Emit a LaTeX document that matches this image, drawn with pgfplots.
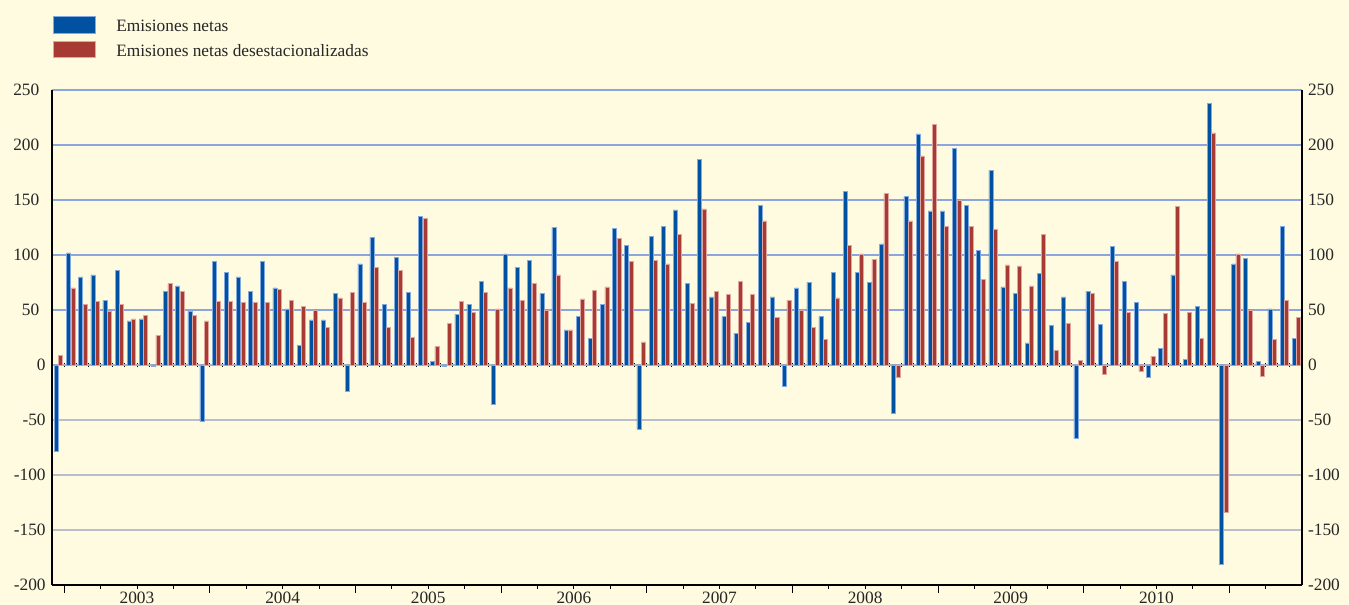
\documentclass[border=0pt]{standalone}
\usepackage{fontspec}
\setmainfont{Liberation Serif}
\usepackage{pgfplots}
\pgfplotsset{compat=1.18}
\usepackage{pgfplotstable}
\definecolor{bg}{RGB}{255,251,224}
\definecolor{cblue}{RGB}{0,82,160}
\definecolor{cred}{RGB}{168,58,52}
\definecolor{cblueedge}{RGB}{130,170,225}
\definecolor{crededge}{RGB}{225,165,160}
\definecolor{gridblue}{RGB}{140,165,220}
\definecolor{gridgray}{RGB}{185,190,200}
\definecolor{zerogray}{RGB}{170,180,200}

\pgfplotstableread{
m b r
0 -78 9
1 102 70
2 80 55
3 82 58
4 59 49
5 86 55
6 40 42
7 42 45
8 -1 27
9 67 74
10 72 67
11 49 45
12 -51 40
13 94 58
14 84 58
15 80 57
16 67 57
17 94 57
18 70 69
19 51 59
20 18 53
21 41 50
22 41 34
23 65 61
24 -24 66
25 92 57
26 116 89
27 55 34
28 98 86
29 66 25
30 135 133
31 3 17
32 -1 38
33 46 58
34 55 48
35 76 66
36 -36 51
37 101 70
38 89 59
39 95 74
40 65 50
41 125 82
42 32 32
43 44 60
44 24 68
45 55 71
46 124 115
47 109 94
48 -58 21
49 117 95
50 126 92
51 141 119
52 74 56
53 187 142
54 62 67
55 44 64
56 29 76
57 39 64
58 145 131
59 62 43
60 -19 59
61 70 50
62 75 34
63 44 23
64 84 61
65 158 109
66 84 101
67 75 96
68 110 156
69 -44 -11
70 153 131
71 210 190
72 140 219
73 140 126
74 197 150
75 145 126
76 104 78
77 177 123
78 71 91
79 65 90
80 20 72
81 83 119
82 36 13
83 62 38
84 -67 4
85 67 65
86 37 -8
87 108 94
88 76 48
89 57 -6
90 -11 8
91 15 47
92 82 144
93 5 48
94 53 24
95 238 211
96 -181 -134
97 92 101
98 97 50
99 3 -10
100 51 23
101 126 59
102 24 43
}\data

\pgfplotsset{
  common/.style={
    at={(0,0)}, anchor=south west, scale only axis,
    width=937.5pt, height=371.25pt,
    xmin=0, xmax=103, ymin=-200, ymax=250,
    /pgf/number format/assume math mode=true,
    tick label style={font=\fontsize{13}{15.6}\selectfont, text=black!85},
  },
  mylegend/.style={
    legend image code/.code={
      \draw[##1, line width=0.4pt] (0pt,-4.5pt) rectangle (31.5pt,8pt);
      \path[draw=none, fill=none] (0pt,0pt) -- (47.25pt,0pt);
    }
  }
}

\begin{document}
\begin{tikzpicture}
\path[use as bounding box, fill=bg] (-39pt,-15pt) rectangle (972.75pt,438.75pt);

% zero line with monthly ticks, gray grid and labels for values <= 0
\begin{axis}[common,
  axis x line=middle, axis y line*=left,
  x axis line style={draw=zerogray, line width=1pt, -},
  y axis line style={draw=none},
  xtick={0,1,...,103}, xticklabels={},
  xtick style={black, line width=0.6pt},
  ytick={-200,-150,-100,-50,0}, ytick style={draw=none},
  ymajorgrids, major grid style={gridgray, line width=0.8pt},
  major tick length=2.5pt, tick align=center,
]
\end{axis}

% main axis
\begin{axis}[common,
  axis x line*=bottom, axis y line*=left,
  axis line style={black, line width=1pt},
  ytick={50,100,...,250},
  ymajorgrids, major grid style={gridblue, line width=0.8pt},
  ytick style={draw=none},
  xtick={1,13,...,97}, xticklabels={},
  minor xtick={4,7,10,16,19,22,28,31,34,40,43,46,52,55,58,64,67,70,76,79,82,88,91,94,100},
  extra x ticks={7,19,...,91},
  extra x tick labels={2003,2004,2005,2006,2007,2008,2009,2010},
  extra x tick style={major tick length=0pt},
  tick align=outside, major tick length=6pt, minor tick length=3pt,
  xtick style={black, line width=0.6pt},
  xticklabel style={yshift=-1.5pt},
  legend style={draw=none, fill=none, inner sep=0pt, outer sep=0pt,
    at={(axis description cs:0,1)}, anchor=north west,
    xshift=0.75pt, yshift=55.5pt,
    font=\fontsize{13}{15.6}\selectfont, text=black!85,
    row sep=5.2pt,
    nodes={inner sep=0pt}},
  legend cell align=left,
]
\addplot[ybar, bar width=0.33, bar shift=0pt, fill=cblue, draw=cblueedge, line width=0.4pt, mylegend]
  table[x expr=\thisrow{m}+0.36, y=b] {\data};
\addlegendentry{Emisiones netas}
\addplot[ybar, bar width=0.33, bar shift=0pt, fill=cred, draw=crededge, line width=0.4pt, mylegend]
  table[x expr=\thisrow{m}+0.72, y=r] {\data};
\addlegendentry{Emisiones netas desestacionalizadas}
\end{axis}

% right axis with labels
\begin{axis}[common,
  axis y line*=right, axis x line=none,
  axis line style={black, line width=1pt},
  ytick={-200,-150,...,250},
  ytick style={draw=none},
  yticklabel style={xshift=1pt},
]
\end{axis}
\end{tikzpicture}
\end{document}
